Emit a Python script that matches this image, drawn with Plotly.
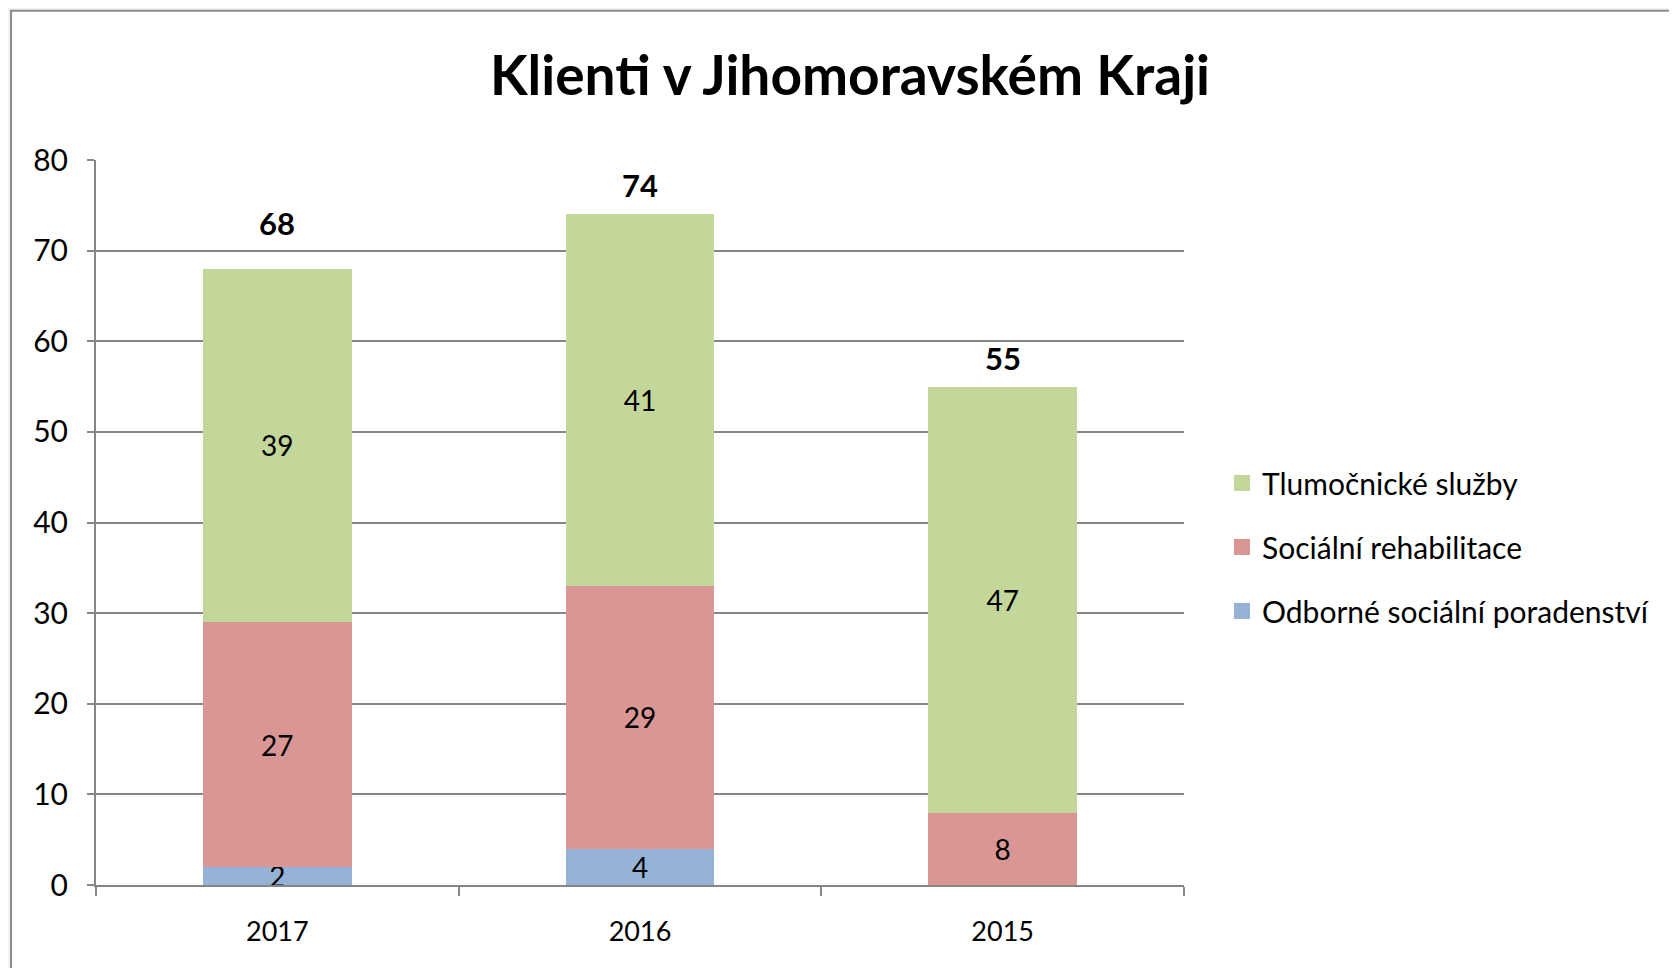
import plotly.graph_objects as go

years = ["2017", "2016", "2015"]
odborne = [2, 4, 0]
socialni = [27, 29, 8]
tlumocnicke = [39, 41, 47]
totals = [68, 74, 55]

series_names = ["Odborné sociální poradenství", "Sociální rehabilitace", "Tlumočnické služby"]
series_values = [odborne, socialni, tlumocnicke]
series_colors = ["#95b3d7", "#da9694", "#c4d79b"]
legend_ranks = [3, 2, 1]
total_label_shift = [25, 8, 8]  # pixel offsets of the total labels above bars

FONT = "Lato, Carlito, 'Open Sans', sans-serif"
W, H = 1677, 968
OFF = 8  # page body margin offset
L, T = 96 - OFF, 159.5 - OFF
pw, ph = 1088, 726
R, B = W - L - pw, H - T - ph

def px_x(page_x):
    return (page_x - OFF - L) / pw

def px_y(page_y):
    return (T + ph - (page_y - OFF)) / ph

fig = go.Figure()
for name, vals, col in zip(series_names, series_values, series_colors):
    fig.add_trace(go.Bar(
        x=years, y=vals, name=name, showlegend=False,
        marker=dict(color=col, line=dict(width=0)),
        text=[str(v) if v else "" for v in vals],
        textposition="inside", insidetextanchor="middle", textangle=0,
        textfont=dict(family=FONT, size=28, color="black"),
        constraintext="none",
    ))

# legend entries with larger square swatches
for name, col, rk in zip(series_names, series_colors, legend_ranks):
    fig.add_trace(go.Scatter(
        x=[None], y=[None], mode="markers", name=name, legendgroup=name, legendrank=rk,
        marker=dict(symbol="square", size=16, color=col, line=dict(width=0)),
    ))

# category axis annotations use the category index
for i, (tot, sh) in enumerate(zip(totals, total_label_shift)):
    fig.add_annotation(x=i, y=tot, xref="x", yref="y", text=f"<b>{tot}</b>", showarrow=False,
                       yanchor="bottom", yshift=sh,
                       font=dict(family=FONT, size=31, color="black"))

# chart frame
fig.add_shape(type="rect", xref="paper", yref="paper", layer="below",
              x0=px_x(11), x1=px_x(1720),
              y0=px_y(1100), y1=px_y(10),
              fillcolor="white", line=dict(color="#8c8c8c", width=2))

fig.update_layout(
    width=W, height=H,
    margin=dict(l=L, r=R, t=T, b=B, autoexpand=False),
    paper_bgcolor="#f2f2f2", plot_bgcolor="rgba(0,0,0,0)",
    barmode="stack", bargap=0.59,
    uniformtext=dict(mode="show", minsize=28),
    title=dict(text="<b>Klienti v Jihomoravském Kraji</b>", x=(850 - OFF) / W, xref="container",
               y=1 - (76 - OFF) / H, yref="container", xanchor="center", yanchor="middle",
               font=dict(family=FONT, size=55, color="black")),
    legend=dict(x=px_x(1222), y=px_y(547), xanchor="left", yanchor="middle",
                traceorder="grouped", tracegroupgap=22,
                font=dict(family=FONT, size=30, color="black"),
                bgcolor="rgba(0,0,0,0)"),
    xaxis=dict(type="category", range=[-0.5, 2.5], showline=True, linecolor="#868686", linewidth=2,
               ticks="outside", tickson="boundaries", ticklen=9, tickcolor="#868686", tickwidth=2,
               tickfont=dict(family=FONT, size=27, color="black"),
               ticklabelstandoff=22, showgrid=False),
    yaxis=dict(range=[0, 80], dtick=10, showline=True, linecolor="#868686", linewidth=2,
               ticks="outside", ticklen=7, tickcolor="#868686", tickwidth=2,
               showgrid=True, gridcolor="#868686", gridwidth=2, zeroline=False,
               tickfont=dict(family=FONT, size=30, color="black"),
               ticklabelstandoff=13),
)

fig.write_html("out.html")
